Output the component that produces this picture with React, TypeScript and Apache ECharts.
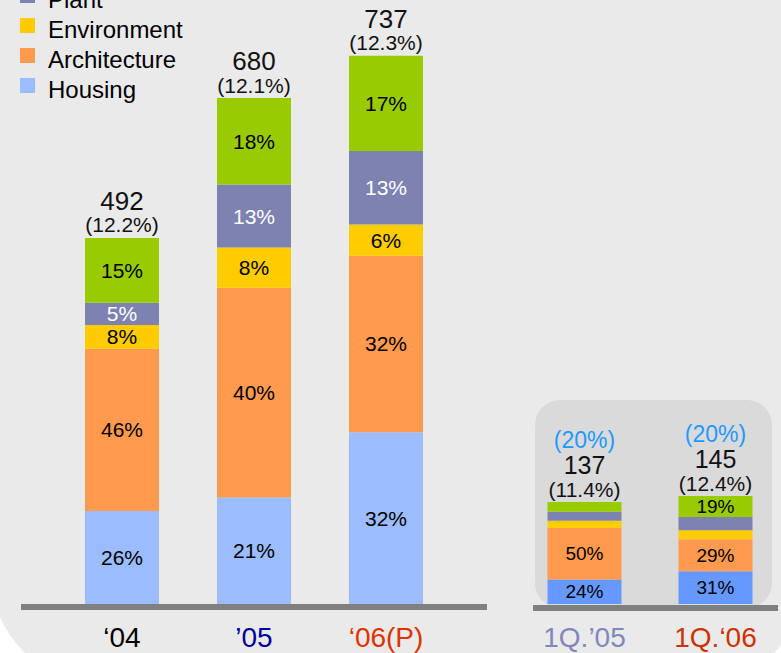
import React, { useEffect, useRef } from "react";
import * as echarts from "echarts";

const FONT = "'Liberation Sans', Arial, sans-serif";

const seriesNames = ["Housing", "Architecture", "Environment", "Plant", "Civil"];
const seriesColors = ["#9bbcff", "#ff9a4f", "#ffcc00", "#7d82b1", "#99cc00"];
const quarterHousingColor = "#6699ff";

const mainCategories = ["\u201804", "\u201905", "\u201806(P)"];
const mainCategoryColors = ["#000000", "#000099", "#dd3300"];
const quarterCategories = ["1Q.\u201905", "1Q.\u201806"];
const quarterCategoryColors = ["#8088bb", "#cc3300"];

// segment values (bottom to top)
const mainHousing = [125, 143, 231];
const mainArchitecture = [218, 282, 237];
const mainEnvironment = [32, 54, 42];
const mainPlant = [30, 85, 99];
const mainCivil = [87, 116, 128];
const mainTotals = ["492", "680", "737"];
const mainMargins = ["(12.2%)", "(12.1%)", "(12.3%)"];

const quarterHousing = [33, 44];
const quarterArchitecture = [69, 43];
const quarterEnvironment = [10, 12];
const quarterPlant = [12, 18];
const quarterCivil = [13, 28];
const quarterTotals = ["137", "145"];
const quarterMargins = ["(11.4%)", "(12.4%)"];
const quarterGrowth = ["(20%)", "(20%)"];

// share labels
const mainHousingPct = ["26%", "21%", "32%"];
const mainArchitecturePct = ["46%", "40%", "32%"];
const mainEnvironmentPct = ["8%", "8%", "6%"];
const mainPlantPct = ["5%", "13%", "13%"];
const mainCivilPct = ["15%", "18%", "17%"];

const quarterHousingPct = ["24%", "31%"];
const quarterArchitecturePct = ["50%", "29%"];
const quarterEnvironmentPct = ["", ""];
const quarterPlantPct = ["", ""];
const quarterCivilPct = ["", "19%"];

// legend, top to bottom
const legendOrder = ["Civil", "Plant", "Environment", "Architecture", "Housing"];

const Y_MAX = 800;

export default function App() {
  const ref = useRef<HTMLDivElement>(null);

  useEffect(() => {
    if (!ref.current) return;
    const chart = echarts.init(ref.current, null, { renderer: "svg" });

    const mainData = [mainHousing, mainArchitecture, mainEnvironment, mainPlant, mainCivil];
    const mainPct = [mainHousingPct, mainArchitecturePct, mainEnvironmentPct, mainPlantPct, mainCivilPct];
    const qData = [quarterHousing, quarterArchitecture, quarterEnvironment, quarterPlant, quarterCivil];
    const qPct = [quarterHousingPct, quarterArchitecturePct, quarterEnvironmentPct, quarterPlantPct, quarterCivilPct];

    const series: any[] = [];
    seriesNames.forEach((name, i) => {
      series.push({
        name,
        type: "bar",
        stack: "main",
        xAxisIndex: 0,
        yAxisIndex: 0,
        barWidth: 74,
        itemStyle: { color: seriesColors[i] },
        label: {
          show: true,
          position: "inside",
          fontFamily: FONT,
          fontSize: 21,
          color: name === "Plant" ? "#ffffff" : "#000000",
          formatter: (p: any) => mainPct[i][p.dataIndex],
        },
        data: mainData[i],
      });
      series.push({
        name,
        type: "bar",
        stack: "q",
        xAxisIndex: 1,
        yAxisIndex: 1,
        barWidth: 74,
        itemStyle: { color: i === 0 ? quarterHousingColor : seriesColors[i] },
        label: {
          show: true,
          position: "inside",
          fontFamily: FONT,
          fontSize: 19,
          color: "#000000",
          formatter: (p: any) => qPct[i][p.dataIndex],
        },
        data: qData[i],
      });
    });

    series.push({
      name: "mainTop",
      type: "bar",
      stack: "main",
      xAxisIndex: 0,
      yAxisIndex: 0,
      barWidth: 74,
      data: mainTotals.map(() => 0),
      label: {
        show: true,
        position: "top",
        distance: 1,
        formatter: (p: any) => `{t|${mainTotals[p.dataIndex]}}\n{p|${mainMargins[p.dataIndex]}}`,
        rich: {
          t: { fontFamily: FONT, fontSize: 26, lineHeight: 24, color: "#111111" },
          p: { fontFamily: FONT, fontSize: 21, lineHeight: 24, color: "#111111" },
        },
      },
    });
    series.push({
      name: "qTop",
      type: "bar",
      stack: "q",
      xAxisIndex: 1,
      yAxisIndex: 1,
      barWidth: 74,
      data: quarterTotals.map(() => 0),
      label: {
        show: true,
        position: "top",
        distance: 1,
        formatter: (p: any) =>
          `{b|${quarterGrowth[p.dataIndex]}}\n{t|${quarterTotals[p.dataIndex]}}\n{p|${quarterMargins[p.dataIndex]}}`,
        rich: {
          b: { fontFamily: FONT, fontSize: 23, lineHeight: 26, color: "#2299ff" },
          t: { fontFamily: FONT, fontSize: 25, lineHeight: 24, color: "#111111" },
          p: { fontFamily: FONT, fontSize: 21, lineHeight: 24, color: "#111111" },
        },
      },
    });

    const xAxisBase = {
      type: "category",
      axisLine: { show: false },
      axisTick: { show: false },
      splitLine: { show: false },
    };

    const legends = legendOrder.map((name, i) => ({
      data: [name],
      orient: "vertical",
      left: 20,
      top: -12.5 + (i - 1) * 30,
      padding: 0,
      icon: "rect",
      itemWidth: 15,
      itemHeight: 15,
      selectedMode: false,
      formatter: "{a|{name}}",
      textStyle: {
        fontFamily: FONT,
        fontSize: 24,
        color: "#000000",
        padding: [0, 0, 0, 8],
        rich: {
          a: {
            fontFamily: FONT,
            fontSize: 24,
            color: "#000000",
            lineHeight: 32,
            verticalAlign: "bottom",
          },
        },
      },
    }));

    chart.setOption({
      animation: false,
      backgroundColor: "#ffffff",
      textStyle: { fontFamily: FONT },
      graphic: [
        {
          type: "rect",
          z: -10,
          silent: true,
          shape: { x: -13, y: -300, width: 825, height: 993, r: 133 },
          style: { fill: "#eaeaea" },
        },
        {
          type: "rect",
          z: -9,
          silent: true,
          shape: { x: 535, y: 400, width: 237, height: 208, r: 25 },
          style: { fill: "#dadada" },
        },
        {
          type: "rect",
          z: -8,
          silent: true,
          shape: { x: 21, y: 604, width: 466, height: 6 },
          style: { fill: "#808080" },
        },
        {
          type: "rect",
          z: -8,
          silent: true,
          shape: { x: 533, y: 605, width: 245, height: 6 },
          style: { fill: "#808080" },
        },
      ],
      legend: legends,
      grid: [
        { left: 56, width: 396, top: 604 - Y_MAX * 0.744, bottom: 49 },
        { left: 519, width: 268, top: 604 - Y_MAX * 0.744, bottom: 49 },
      ],
      xAxis: [
        {
          ...xAxisBase,
          gridIndex: 0,
          data: mainCategories,
          axisLabel: {
            fontFamily: FONT,
            fontSize: 28,
            margin: 19,
            color: (_v: any, i: number) => mainCategoryColors[i],
          },
        },
        {
          ...xAxisBase,
          gridIndex: 1,
          data: quarterCategories,
          axisLabel: {
            fontFamily: FONT,
            fontSize: 28,
            margin: 19,
            color: (_v: any, i: number) => quarterCategoryColors[i],
          },
        },
      ],
      yAxis: [
        { type: "value", gridIndex: 0, min: 0, max: Y_MAX, show: false },
        { type: "value", gridIndex: 1, min: 0, max: Y_MAX, show: false },
      ],
      series,
    });

    return () => chart.dispose();
  }, []);

  return (
    <div
      ref={ref}
      style={{ position: "fixed", left: 0, top: 0, width: 781, height: 653 }}
    />
  );
}
